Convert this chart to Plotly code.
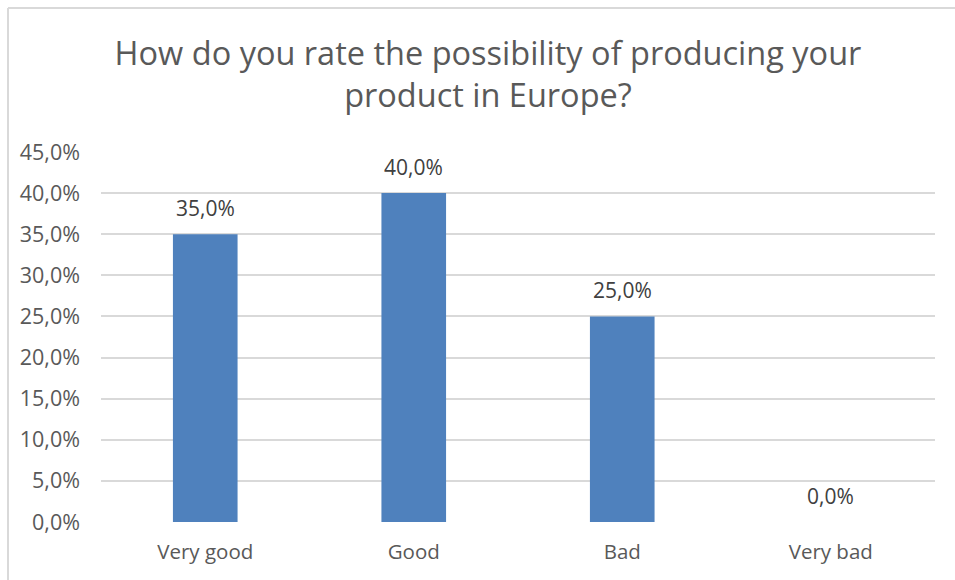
import plotly.graph_objects as go

categories = ["Very good", "Good", "Bad", "Very bad"]
shares = [0.35, 0.40, 0.25, 0.0]
tick_values = [0.0, 0.05, 0.10, 0.15, 0.20, 0.25, 0.30, 0.35, 0.40, 0.45]

TEXT = "#595959"
FONT = "'Open Sans', Lato, sans-serif"

W, H = 955, 580
L, R, T, B = 101, 20, 152, 58
pw = W - L - R
ph = H - T - B

fig = go.Figure(
    go.Bar(
        x=categories,
        y=shares,
        marker=dict(color="#4F81BD", line=dict(width=0)),
        width=0.31,
        hoverinfo="skip",
    )
)

# value labels sitting above each bar
for cat, val in zip(categories, shares):
    fig.add_annotation(
        x=cat, y=val, xref="x", yref="y",
        text=f"{val * 100:.1f}%".replace(".", ","),
        showarrow=False, yanchor="middle", yshift=26,
        font=dict(size=21, color="#404040", family=FONT),
    )

fig.update_layout(
    width=W,
    height=H,
    margin=dict(l=L, r=R, t=T, b=B, pad=0),
    paper_bgcolor="white",
    plot_bgcolor="white",
    separators=",.",
    showlegend=False,
    font=dict(family=FONT, color=TEXT),
    title=dict(
        text="How do you rate the possibility of producing your<br>product in Europe?",
        x=0.511,
        xanchor="center",
        y=1 - 65 / H,
        yanchor="middle",
        font=dict(size=32.5, color=TEXT, family=FONT),
    ),
    xaxis=dict(
        showgrid=False,
        showline=False,
        ticks="",
        tickfont=dict(size=20.5, color=TEXT),
        ticklabelstandoff=15,
    ),
    yaxis=dict(
        range=[0, 0.45],
        tickvals=tick_values,
        tickformat=".1%",
        showgrid=True,
        gridcolor="#d9d9d9",
        gridwidth=1.5,
        zeroline=False,
        showline=False,
        ticks="",
        tickfont=dict(size=21.5, color=TEXT),
        ticklabelstandoff=20,
    ),
    shapes=[
        # chart frame: top and left edges
        dict(type="line", xref="paper", yref="paper",
             x0=(8 - L) / pw, x1=(W - L) / pw,
             y0=(H - B - 8) / ph, y1=(H - B - 8) / ph,
             line=dict(color="#d9d9d9", width=2)),
        dict(type="line", xref="paper", yref="paper",
             x0=(8 - L) / pw, x1=(8 - L) / pw,
             y0=-B / ph, y1=(H - B - 8) / ph,
             line=dict(color="#d9d9d9", width=2)),
    ],
)

fig.write_html("out.html")
